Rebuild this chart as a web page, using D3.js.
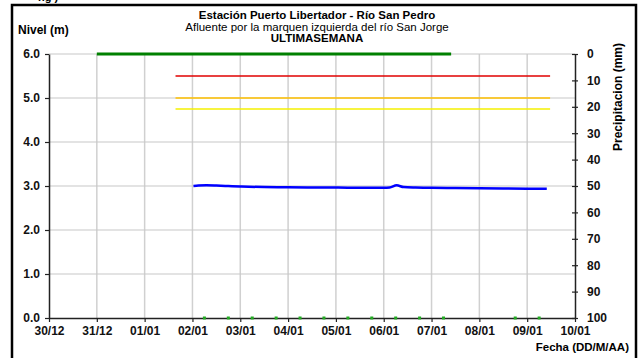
<!DOCTYPE html>
<html><head><meta charset="utf-8">
<script src="https://cdn.jsdelivr.net/npm/d3@7"></script>
<style>
body{margin:0;background:#fff;}
text{font-family:"Liberation Sans",Arial,sans-serif;}
</style></head>
<body><svg id="c" width="640" height="358"></svg>
<script>
// ---------- data ----------
const dateTicks = ["30/12/2013","31/12/2013","01/01/2014","02/01/2014","03/01/2014","04/01/2014","05/01/2014","06/01/2014","07/01/2014","08/01/2014","09/01/2014","10/01/2014"];
const levelTicks = [0,1,2,3,4,5,6];
const precipTicks = [0,10,20,30,40,50,60,70,80,90,100];

// Nivel (m) - blue series
const levelTimes = ["02/01/2014 00:30","02/01/2014 03:00","02/01/2014 07:00","02/01/2014 12:00","02/01/2014 18:00","03/01/2014 00:00","03/01/2014 12:00","04/01/2014 00:00","04/01/2014 12:00","05/01/2014 00:00","05/01/2014 12:00","06/01/2014 00:00","06/01/2014 03:00","06/01/2014 06:30","06/01/2014 10:00","06/01/2014 16:00","07/01/2014 00:00","07/01/2014 12:00","08/01/2014 00:00","08/01/2014 12:00","09/01/2014 00:00","09/01/2014 09:50"];
const levelValues = [3.00,3.01,3.015,3.01,3.00,2.99,2.975,2.97,2.965,2.965,2.96,2.96,2.965,3.015,2.975,2.965,2.96,2.955,2.95,2.945,2.94,2.935];

// Precipitacion (mm) - green line at 0 mm
const precipTimes = ["31/12/2013 00:00","07/01/2014 09:50"];
const precipValues = [0,0];

// Green markers at level 0
const markerTimes = ["02/01/2014 06:00","02/01/2014 18:00","03/01/2014 06:00","03/01/2014 18:00","04/01/2014 06:00","04/01/2014 18:00","05/01/2014 06:00","05/01/2014 18:00","06/01/2014 06:00","06/01/2014 18:00","07/01/2014 06:00","08/01/2014 18:00","09/01/2014 06:00"];
const markerValues = [0,0,0,0,0,0,0,0,0,0,0,0,0];

// Threshold lines (m)
const thresholdStart = "01/01/2014 15:30";
const thresholdEnd = "09/01/2014 11:30";
const thresholdValues = [5.5, 5.0, 4.75];
const thresholdColors = ["#e00000","#ffc000","#f5f000"];

// ---------- drawing ----------
const parseDay = d3.timeParse("%d/%m/%Y");
const parseDT = d3.timeParse("%d/%m/%Y %H:%M");
const svg = d3.select("#c");
const L = 49, R = 575, T = 54, B = 318;

const x = d3.scaleTime().domain([parseDay(dateTicks[0]), parseDay(dateTicks[dateTicks.length-1])]).range([L,R]);
const y = d3.scaleLinear().domain([0,6]).range([B,T]);
const yR = d3.scaleLinear().domain([0,100]).range([T,B]);

// frame
svg.append("path").attr("d",`M12,400 V5 H636 V400`).attr("fill","none").attr("stroke","#000").attr("stroke-width",2.5);
svg.append("text").attr("x",38).attr("y",1).attr("font-size",11).attr("font-weight","bold").text("ng )");

// grid
svg.append("g").selectAll("line").data(dateTicks.slice(1,-1)).join("line")
  .attr("x1",d=>x(parseDay(d))).attr("x2",d=>x(parseDay(d))).attr("y1",T).attr("y2",B)
  .attr("stroke","#d0d0d0").attr("stroke-width",1.5);
svg.append("g").selectAll("line").data(levelTicks.slice(1)).join("line")
  .attr("x1",L).attr("x2",R).attr("y1",d=>y(d)).attr("y2",d=>y(d))
  .attr("stroke","#c8c8c8").attr("stroke-width",1.2);

// thresholds
svg.append("g").selectAll("line").data(thresholdValues).join("line")
  .attr("x1",x(parseDT(thresholdStart))).attr("x2",x(parseDT(thresholdEnd)))
  .attr("y1",d=>y(d)).attr("y2",d=>y(d))
  .attr("stroke",(d,i)=>thresholdColors[i]).attr("stroke-width",1.3);

// axes
const fmt = d3.timeFormat("%d/%m");
const xAxis = svg.append("g").attr("transform",`translate(0,${B})`)
  .call(d3.axisBottom(x).tickValues(dateTicks.map(parseDay)).tickFormat(fmt).tickSize(4).tickSizeOuter(0));
const yAxis = svg.append("g").attr("transform",`translate(${L},0)`)
  .call(d3.axisLeft(y).tickValues(levelTicks).tickFormat(d3.format(".1f")).tickSize(4).tickSizeOuter(0));
const yAxisR = svg.append("g").attr("transform",`translate(${R},0)`)
  .call(d3.axisRight(yR).tickValues(precipTicks).tickSize(3).tickSizeOuter(0));
yAxisR.selectAll(".tick line").attr("x1",-3);
[xAxis,yAxis,yAxisR].forEach(g=>{
  g.selectAll("text").attr("font-family","Liberation Sans, Arial, sans-serif").attr("font-size",12).attr("font-weight","bold").attr("fill","#111");
  g.select(".domain").attr("stroke","#222").attr("stroke-width",1.5);
  g.selectAll(".tick line").attr("stroke","#222").attr("stroke-width",1.2);
});
xAxis.selectAll("text").attr("y",6).attr("dy","0.95em");
yAxis.selectAll("text").attr("x",-9);
yAxisR.selectAll("text").attr("x",12);

// precipitation line (green at 0 mm)
svg.append("path").datum(precipTimes.map((t,i)=>[parseDT(t),precipValues[i]]))
  .attr("d",d3.line().x(d=>x(d[0])).y(d=>yR(d[1])))
  .attr("fill","none").attr("stroke","#008000").attr("stroke-width",3);

// green markers
svg.append("g").selectAll("rect").data(markerTimes.map((t,i)=>[parseDT(t),markerValues[i]])).join("rect")
  .attr("x",d=>x(d[0])-1.5).attr("y",d=>y(d[1])-1.5).attr("width",3).attr("height",3).attr("fill","#22aa22");

// level line
svg.append("path").datum(levelTimes.map((t,i)=>[parseDT(t),levelValues[i]]))
  .attr("d",d3.line().x(d=>x(d[0])).y(d=>y(d[1])).curve(d3.curveMonotoneX))
  .attr("fill","none").attr("stroke","#0000ff").attr("stroke-width",2.5);

// titles
const cx = 317;
svg.append("text").attr("x",cx).attr("y",19).attr("text-anchor","middle").attr("font-size",11.5).attr("font-weight","bold").text("Estación Puerto Libertador - Río San Pedro");
svg.append("text").attr("x",cx).attr("y",31).attr("text-anchor","middle").attr("font-size",11.5).text("Afluente por la marquen izquierda del río San Jorge");
svg.append("text").attr("x",cx).attr("y",42).attr("text-anchor","middle").attr("font-size",11.5).attr("font-weight","bold").text("ULTIMASEMANA");
svg.append("text").attr("x",18).attr("y",34).attr("font-size",12).attr("font-weight","bold").text("Nivel (m)");
svg.append("text").attr("transform","translate(622,97) rotate(-90)").attr("text-anchor","middle").attr("font-size",12).attr("font-weight","bold").text("Precipitacion (mm)");
svg.append("text").attr("x",629).attr("y",351).attr("text-anchor","end").attr("font-size",11.5).attr("font-weight","bold").text("Fecha (DD/M/AA)");
</script></body></html>
